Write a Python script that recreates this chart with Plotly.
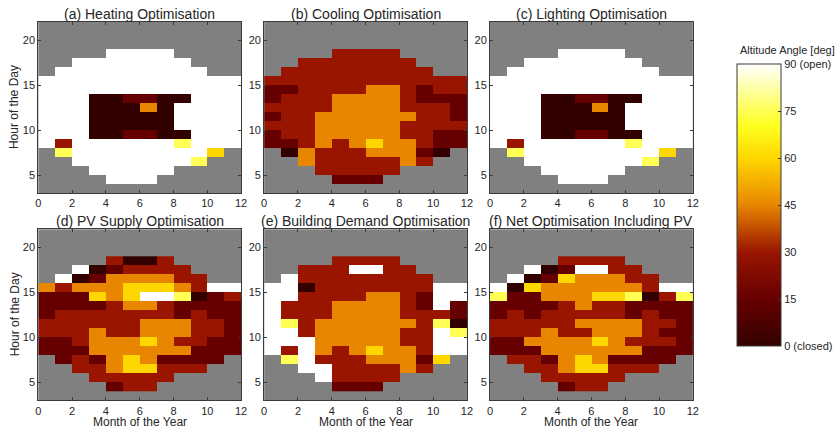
import plotly.graph_objects as go

N = None  # sun below the horizon: no blind setting

# Grid: months 0..12 (cell edges) and hours of the day 4..19 (cell edges)
month_edges = list(range(0, 13))
hour_edges = list(range(4, 20))

# Blind altitude angle [deg] per hour (rows: hour 4 .. 18) and month (cols)
heating = [
    [N, N, N, N, 90, 90, 90, N, N, N, N, N],
    [N, N, N, 90, 90, 90, 90, 90, N, N, N, N],
    [N, N, 90, 90, 90, 90, 90, 90, 90, 75, N, N],
    [N, 75, 90, 90, 90, 90, 90, 90, 90, 90, 60, N],
    [90, 30, 90, 90, 90, 90, 90, 90, 75, 90, 90, 90],
    [90, 90, 90, 0, 0, 15, 15, 0, 0, 90, 90, 90],
    [90, 90, 90, 0, 0, 0, 0, 0, 90, 90, 90, 90],
    [90, 90, 90, 0, 0, 0, 0, 0, 90, 90, 90, 90],
    [90, 90, 90, 0, 0, 0, 45, 0, 90, 90, 90, 90],
    [90, 90, 90, 0, 0, 15, 15, 0, 0, 90, 90, 90],
    [90, 90, 90, 90, 90, 90, 90, 90, 90, 90, 90, 90],
    [90, 90, 90, 90, 90, 90, 90, 90, 90, 90, 90, 90],
    [N, 90, 90, 90, 90, 90, 90, 90, 90, 90, N, N],
    [N, N, 90, 90, 90, 90, 90, 90, 90, N, N, N],
    [N, N, N, N, 90, 90, 90, 90, N, N, N, N],
]

cooling = [
    [N, N, N, N, 15, 15, 15, N, N, N, N, N],
    [N, N, N, 30, 30, 30, 30, 30, N, N, N, N],
    [N, N, 45, 30, 30, 30, 30, 30, 45, 30, N, N],
    [N, 0, 45, 30, 30, 30, 45, 45, 45, 15, 0, N],
    [15, 15, 30, 45, 30, 45, 60, 45, 45, 30, 15, 15],
    [15, 30, 30, 45, 45, 45, 45, 45, 30, 30, 15, 15],
    [30, 30, 30, 45, 45, 45, 45, 45, 30, 30, 30, 30],
    [15, 30, 30, 45, 45, 45, 45, 45, 45, 30, 30, 15],
    [30, 30, 30, 30, 45, 45, 45, 45, 30, 30, 30, 15],
    [15, 30, 30, 30, 45, 45, 45, 45, 30, 15, 15, 15],
    [15, 15, 30, 30, 30, 30, 45, 45, 30, 15, 30, 30],
    [30, 30, 30, 30, 30, 30, 30, 30, 30, 30, 30, 30],
    [N, 30, 30, 30, 30, 30, 30, 30, 30, 30, N, N],
    [N, N, 30, 30, 30, 30, 30, 30, 30, N, N, N],
    [N, N, N, N, 30, 30, 30, 30, N, N, N, N],
]

lighting = [
    [N, N, N, N, 90, 90, 90, N, N, N, N, N],
    [N, N, N, 90, 90, 90, 90, 90, N, N, N, N],
    [N, N, 90, 90, 90, 90, 90, 90, 90, 75, N, N],
    [N, 75, 90, 90, 90, 90, 90, 90, 90, 90, 60, N],
    [90, 30, 90, 90, 90, 90, 90, 90, 75, 90, 90, 90],
    [90, 90, 90, 0, 0, 15, 15, 0, 0, 90, 90, 90],
    [90, 90, 90, 0, 0, 0, 0, 0, 90, 90, 90, 90],
    [90, 90, 90, 0, 0, 0, 0, 0, 90, 90, 90, 90],
    [90, 90, 90, 0, 0, 0, 45, 0, 90, 90, 90, 90],
    [90, 90, 90, 0, 0, 15, 15, 0, 0, 90, 90, 90],
    [90, 90, 90, 90, 90, 90, 90, 90, 90, 90, 90, 90],
    [90, 90, 90, 90, 90, 90, 90, 90, 90, 90, 90, 90],
    [N, 90, 90, 90, 90, 90, 90, 90, 90, 90, N, N],
    [N, N, 90, 90, 90, 90, 90, 90, 90, N, N, N],
    [N, N, N, N, 90, 90, 90, 90, N, N, N, N],
]

pv_supply = [
    [N, N, N, N, 15, 30, 30, N, N, N, N, N],
    [N, N, N, 30, 30, 30, 30, 30, N, N, N, N],
    [N, N, 30, 30, 45, 60, 60, 30, 30, 30, N, N],
    [N, 15, 30, 15, 45, 60, 45, 15, 15, 15, 15, N],
    [15, 15, 15, 45, 45, 45, 45, 45, 45, 15, 15, 15],
    [15, 15, 30, 45, 45, 45, 60, 45, 30, 30, 15, 15],
    [30, 30, 30, 45, 30, 30, 45, 45, 45, 30, 30, 15],
    [30, 30, 30, 30, 30, 30, 45, 45, 45, 30, 30, 15],
    [15, 30, 30, 30, 30, 30, 30, 30, 15, 30, 15, 15],
    [15, 15, 15, 15, 30, 45, 45, 30, 15, 15, 15, 15],
    [15, 15, 15, 60, 45, 60, 90, 90, 75, 0, 15, 30],
    [45, 30, 45, 45, 45, 60, 60, 60, 45, 30, 90, 90],
    [N, 90, 0, 15, 45, 45, 45, 45, 30, 30, N, N],
    [N, N, 90, 0, 15, 30, 30, 30, 30, N, N, N],
    [N, N, N, N, 30, 0, 0, 30, N, N, N, N],
]

building_demand = [
    [N, N, N, N, 15, 15, 15, N, N, N, N, N],
    [N, N, N, 90, 30, 30, 30, 30, N, N, N, N],
    [N, N, 90, 90, 30, 30, 30, 30, 45, 30, N, N],
    [N, 75, 90, 30, 30, 30, 45, 45, 45, 15, 60, N],
    [90, 30, 90, 45, 30, 45, 60, 45, 45, 30, 90, 90],
    [90, 90, 90, 45, 45, 45, 45, 45, 30, 30, 90, 90],
    [90, 90, 30, 45, 45, 45, 45, 45, 30, 30, 90, 75],
    [90, 75, 30, 45, 45, 45, 45, 45, 45, 30, 75, 0],
    [90, 30, 30, 30, 45, 45, 45, 45, 30, 30, 30, 15],
    [90, 30, 30, 30, 45, 45, 45, 45, 30, 15, 90, 15],
    [90, 90, 30, 30, 30, 30, 45, 45, 30, 15, 90, 90],
    [90, 90, 0, 30, 30, 30, 30, 30, 30, 30, 90, 90],
    [N, 90, 30, 30, 30, 30, 30, 30, 30, 30, N, N],
    [N, N, 30, 30, 30, 90, 90, 30, 30, N, N, N],
    [N, N, N, N, 30, 30, 30, 30, N, N, N, N],
]

net_with_pv = [
    [N, N, N, N, 15, 30, 30, N, N, N, N, N],
    [N, N, N, 30, 30, 30, 30, 30, N, N, N, N],
    [N, N, 30, 30, 45, 60, 60, 30, 30, 30, N, N],
    [N, 30, 30, 15, 45, 60, 45, 15, 15, 15, 15, N],
    [15, 15, 15, 45, 45, 45, 45, 45, 45, 15, 15, 15],
    [15, 15, 45, 45, 45, 45, 60, 45, 30, 30, 30, 15],
    [30, 30, 30, 45, 30, 30, 45, 45, 45, 30, 15, 15],
    [30, 30, 30, 30, 30, 45, 45, 45, 45, 30, 30, 15],
    [15, 30, 15, 30, 30, 30, 30, 30, 15, 30, 15, 15],
    [15, 15, 15, 15, 30, 45, 30, 30, 15, 15, 15, 15],
    [75, 15, 15, 45, 45, 45, 60, 60, 75, 0, 30, 75],
    [90, 0, 60, 45, 45, 45, 45, 45, 45, 30, 90, 90],
    [N, 90, 0, 15, 60, 45, 45, 45, 30, 30, N, N],
    [N, N, 90, 0, 15, 90, 90, 30, 30, N, N, N],
    [N, N, N, N, 30, 30, 30, 30, N, N, N, N],
]

panel_titles = [
    "(a) Heating Optimisation",
    "(b) Cooling Optimisation",
    "(c) Lighting Optimisation",
    "(d) PV Supply Optimisation",
    "(e) Building Demand Optimisation",
    "(f) Net Optimisation Including PV",
]
panel_data = [heating, cooling, lighting, pv_supply, building_demand, net_with_pv]

angle_ticks = [0, 15, 30, 45, 60, 75, 90]
angle_labels = ["0 (closed)", "15", "30", "45", "60", "75", "90 (open)"]
month_ticks = [0, 2, 4, 6, 8, 10, 12]
hour_ticks = [5, 10, 15, 20]

# ---- layout geometry (pixels) ----
W, H = 840, 432
col_x = [(35.7, 240.7), (264.0, 469.0), (492.3, 697.3)]
row_y = [(22.0, 193.0), (229.3, 400.3)]   # top, bottom

FONT = "Liberation Sans, Arial, Helvetica, sans-serif"
INK = "#262626"
AX = "#3a3a3a"

hot_scale = [
    [0.0, "#330000"],
    [1 / 6, "#660000"],
    [2 / 6, "#991500"],
    [3 / 6, "#e88600"],
    [4 / 6, "#ffd700"],
    [0.78, "#ffff20"],
    [5 / 6, "#ffff55"],
    [1.0, "#ffffff"],
]

fig = go.Figure()
layout_axes = {}
annotations = []

for i, (title, z) in enumerate(zip(panel_titles, panel_data)):
    r, c = divmod(i, 3)
    k = "" if i == 0 else str(i + 1)
    x0, x1 = col_x[c]
    top, bot = row_y[r]

    fig.add_trace(go.Heatmap(
        z=z, x=month_edges, y=hour_edges,
        coloraxis="coloraxis",
        xaxis="x" + k, yaxis="y" + k,
        hoverongaps=False,
    ))

    common = dict(
        showline=True, linecolor=AX, linewidth=1, mirror="ticks",
        ticks="inside", ticklen=3, tickcolor=AX, tickwidth=1,
        showgrid=False, zeroline=False,
        tickfont=dict(family=FONT, size=11, color=INK),
    )
    layout_axes["xaxis" + k] = dict(
        common, domain=[x0 / W, x1 / W], range=[0, 12],
        tickvals=month_ticks, anchor="y" + k,
    )
    layout_axes["yaxis" + k] = dict(
        common, domain=[1 - bot / H, 1 - top / H], range=[3, 22],
        tickvals=hour_ticks, anchor="x" + k,
    )

    annotations.append(dict(
        text=title, xref="paper", yref="paper",
        x=(x0 + x1) / 2 / W, y=1 - (top - 8) / H,
        xanchor="center", yanchor="middle", showarrow=False,
        font=dict(family=FONT, size=14, color=INK),
    ))

    if c == 0:
        annotations.append(dict(
            text="Hour of the Day", xref="paper", yref="paper",
            x=11.7 / W, y=1 - (top + bot) / 2 / H, textangle=-90,
            xanchor="center", yanchor="middle", showarrow=False,
            font=dict(family=FONT, size=12, color=INK),
        ))
    if r == 1:
        annotations.append(dict(
            text="Month of the Year", xref="paper", yref="paper",
            x=(x0 + x1) / 2 / W, y=1 - 422 / H,
            xanchor="center", yanchor="middle", showarrow=False,
            font=dict(family=FONT, size=12, color=INK),
        ))

# colour bar heading
annotations.append(dict(
    text="Altitude Angle [deg]", xref="paper", yref="paper",
    x=743 / W, y=1 - 50 / H, xanchor="left", yanchor="middle",
    showarrow=False, font=dict(family=FONT, size=11, color=INK),
))

fig.update_layout(
    width=W, height=H,
    margin=dict(l=0, r=0, t=0, b=0),
    paper_bgcolor="white",
    plot_bgcolor="#808080",
    showlegend=False,
    annotations=annotations,
    coloraxis=dict(
        cmin=0, cmax=90, colorscale=hot_scale,
        colorbar=dict(
            thicknessmode="pixels", thickness=44,
            lenmode="pixels", len=282,
            x=742 / W, xanchor="left",
            y=1 - 205 / H, yanchor="middle",
            xpad=0, ypad=0,
            outlinecolor=AX, outlinewidth=1,
            tickvals=angle_ticks, ticktext=angle_labels,
            ticks="inside", ticklen=3, tickcolor=AX,
            tickfont=dict(family=FONT, size=11, color=INK),
        ),
    ),
    **layout_axes,
)

fig.write_html("out.html")
